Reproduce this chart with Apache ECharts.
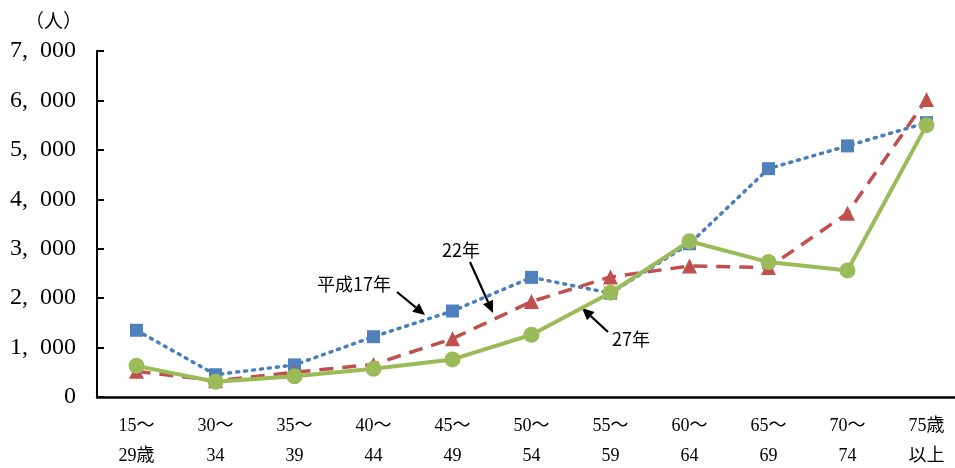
<!DOCTYPE html>
<html><head><meta charset="utf-8">
<script src="https://cdn.jsdelivr.net/npm/echarts@6/dist/echarts.min.js"></script>
<style>html,body{margin:0;padding:0;background:#fff}#c{width:955px;height:468px}</style>
</head><body><div id="c"></div>
<script>
const categories = ['15～\n29歳','30～\n34','35～\n39','40～\n44','45～\n49','50～\n54','55～\n59','60～\n64','65～\n69','70～\n74','75歳\n以上'];
const seriesNames = ['平成17年','22年','27年'];
const h17 = [1350, 450, 650, 1220, 1740, 2420, 2100, 3100, 4620, 5080, 5550];
const h22 = [520, 330, 500, 660, 1180, 1930, 2430, 2650, 2620, 3720, 6020];
const h27 = [630, 310, 420, 570, 760, 1260, 2110, 3150, 2730, 2560, 5500];

const chart = echarts.init(document.getElementById('c'));
const serif = "'Liberation Serif','DejaVu Serif','Noto Sans CJK JP',serif";
const sans = "'Noto Sans CJK JP','Noto Sans',sans-serif";

function arrow(x1,y1,x2,y2){
  const a = Math.atan2(y2-y1,x2-x1), L=12, W=5.5;
  const bx = x2 - L*Math.cos(a), by = y2 - L*Math.sin(a);
  const px = -Math.sin(a)*W, py = Math.cos(a)*W;
  return [
    {type:'line', shape:{x1:x1,y1:y1,x2:bx,y2:by}, style:{stroke:'#000',lineWidth:2.2}},
    {type:'polygon', shape:{points:[[x2,y2],[bx+px,by+py],[bx-px,by-py]]}, style:{fill:'#000'}}
  ];
}
const labels = [
  {type:'text', x:317, y:284, style:{text:'平成17年', font:"18px "+sans, fill:'#000', textVerticalAlign:'middle'}},
  {type:'text', x:442, y:250, style:{text:'22年', font:"18px "+sans, fill:'#000', textVerticalAlign:'middle'}},
  {type:'text', x:612, y:339, style:{text:'27年', font:"18px "+sans, fill:'#000', textVerticalAlign:'middle'}}
];
const graphics = labels
  .concat(arrow(397,292,425,315))
  .concat(arrow(470,262,493,313))
  .concat(arrow(608,332,582,308));

chart.setOption({
  animation:false,
  grid:{left:97, top:51, height:346, width:869, outerBoundsMode:'none', containLabel:false},
  xAxis:{type:'category', data:categories, boundaryGap:true,
    axisLine:{lineStyle:{color:'#000', width:2.5}},
    axisTick:{show:false},
    axisLabel:{color:'#000', fontFamily:serif, fontSize:18, lineHeight:30, margin:14, interval:0}},
  yAxis:{type:'value', min:0, max:7000, interval:1000,
    name:'（人）', nameLocation:'end', nameGap:18,
    nameTextStyle:{color:'#000', fontFamily:serif, fontSize:19, align:'right', padding:[0,15,0,0]},
    axisLine:{show:true, lineStyle:{color:'#000', width:2}},
    axisTick:{show:true, inside:true, length:7, lineStyle:{color:'#000', width:2}},
    splitLine:{show:false},
    axisLabel:{color:'#000', fontFamily:serif, fontSize:24, margin:21,
      formatter:v=>{const s=String(v); return s.length>3? s.slice(0,s.length-3)+',\u2002'+s.slice(-3): s;}}},
  series:[
    {name:seriesNames[0], type:'line', data:h17, symbol:'rect', symbolSize:13,
      lineStyle:{color:'#4A7EBB', width:3.5, type:[2,6], cap:'round'}, itemStyle:{color:'#4F81BD'}, z:2},
    {name:seriesNames[1], type:'line', data:h22, symbol:'triangle', symbolSize:15,
      lineStyle:{color:'#C0504D', width:3.5, type:[14,9]}, itemStyle:{color:'#C0504D'}, z:3},
    {name:seriesNames[2], type:'line', data:h27, symbol:'circle', symbolSize:16,
      lineStyle:{color:'#9BBB59', width:4}, itemStyle:{color:'#9BBB59'}, z:4}
  ],
  graphic: graphics
});
</script></body></html>
